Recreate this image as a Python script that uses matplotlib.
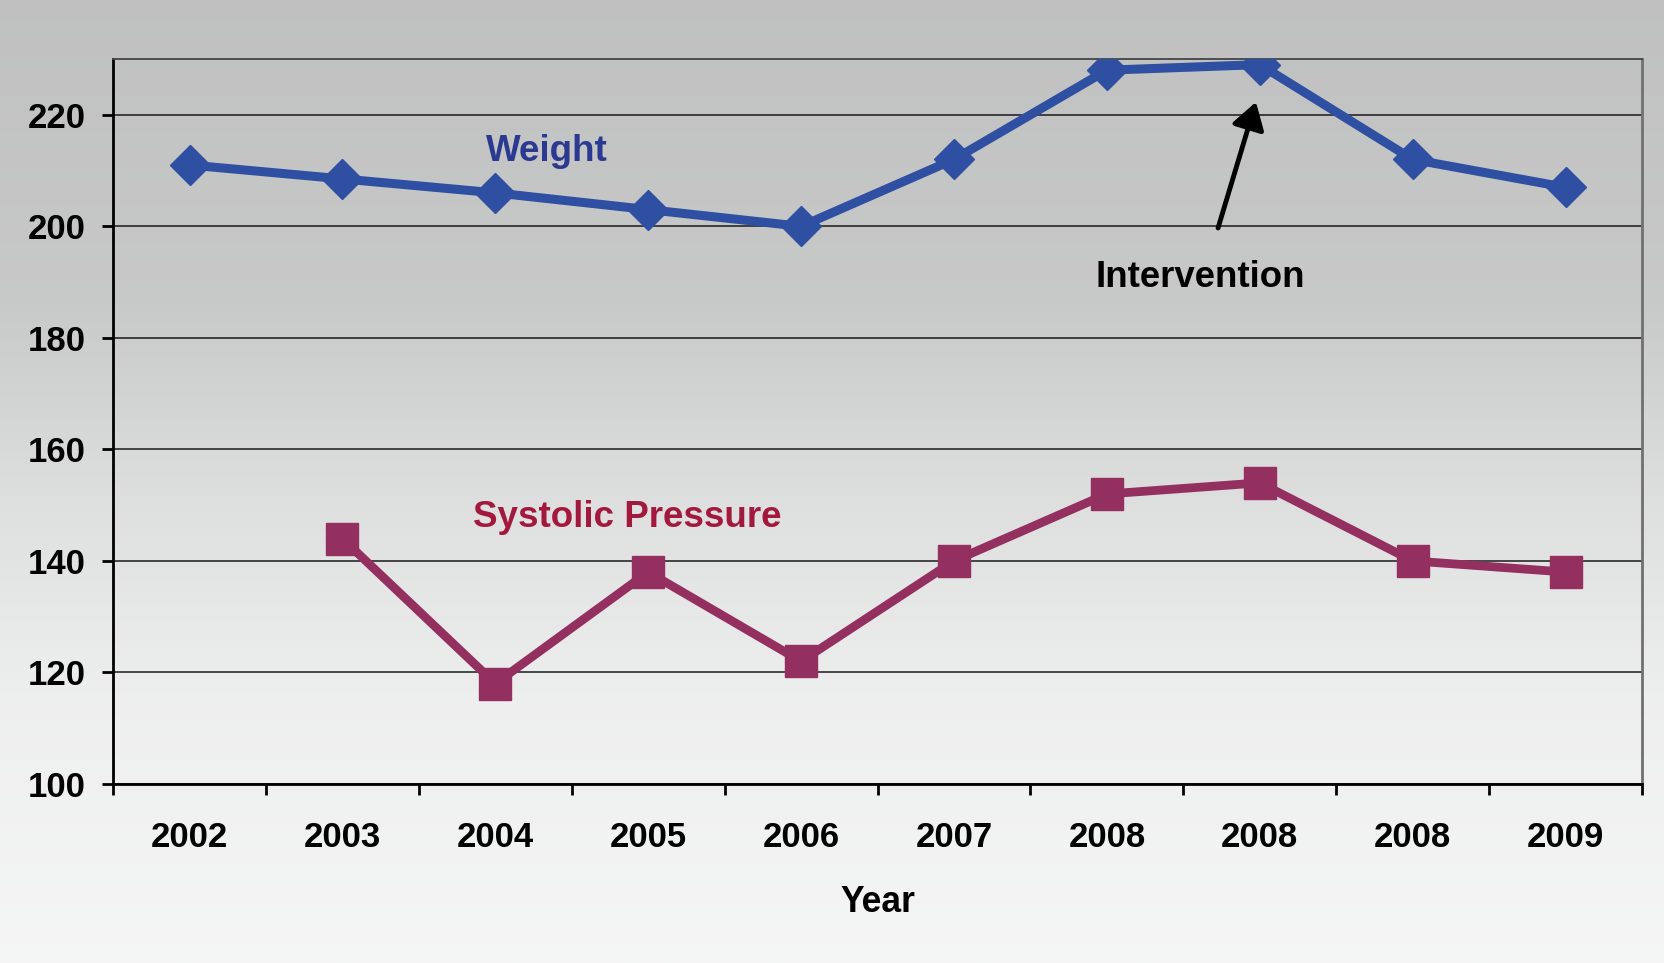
import matplotlib
matplotlib.use("Agg")
import matplotlib.pyplot as plt
import numpy as np

plt.rcParams["font.family"] = ["Liberation Sans", "DejaVu Sans"]
plt.rcParams["font.weight"] = "bold"

years = ["2002", "2003", "2004", "2005", "2006", "2007", "2008", "2008", "2008", "2009"]
weight = [211, 208.5, 206, 203, 200, 212, 228, 229, 212, 207]
systolic = [np.nan, 144, 118, 138, 122, 140, 152, 154, 140, 138]
y_ticks = [100, 120, 140, 160, 180, 200, 220]

blue = "#2f4fa2"
plum = "#93305f"

fig = plt.figure(figsize=(16.65, 9.63), dpi=100)

# vertical grey gradient behind the whole figure
bg = fig.add_axes([0, 0, 1, 1], zorder=-10)
rows = np.linspace(0, 963, 400)
shade = np.interp(rows, [0, 300, 500, 700, 963], [192, 200, 222, 238, 245]) / 255.0
grad = np.stack([shade, shade + 0.002, shade + 0.002], axis=-1).reshape(-1, 1, 3)
bg.imshow(np.clip(grad, 0, 1), aspect="auto", extent=[0, 1, 0, 1])
bg.axis("off")

ax = fig.add_axes([0.0679, 0.1859, 0.9183, 0.7528])
ax.set_facecolor("none")

x = np.arange(len(years))
ax.plot(x, weight, color=blue, lw=6.5, marker="D", ms=20, zorder=3)
ax.plot(x, systolic, color=plum, lw=6.3, marker="s", ms=23, zorder=3)

ax.set_xlim(-0.5, len(years) - 0.5)
ax.set_ylim(100, 230)
ax.set_yticks(y_ticks)
ax.yaxis.grid(True, color="#1a1a1a", lw=1.1)
ax.set_axisbelow(True)

# category boundaries carry the tick marks, centres carry the labels
ax.set_xticks(np.arange(-0.5, len(years)), labels=[""] * (len(years) + 1))
ax.set_xticks(x, labels=years, minor=True)
ax.tick_params(axis="x", which="major", direction="out", length=8, width=2)
ax.tick_params(axis="x", which="minor", length=0, pad=27, labelsize=25)
ax.tick_params(axis="y", direction="out", length=8, width=2, pad=12, labelsize=25)
for lab in ax.get_xticklabels(minor=True) + ax.get_yticklabels():
    lab.set_fontweight("bold")

ax.spines["left"].set_linewidth(2)
ax.spines["bottom"].set_linewidth(2)
ax.spines["top"].set_color("#444444")
ax.spines["top"].set_linewidth(1.3)
ax.spines["right"].set_color("#707070")
ax.spines["right"].set_linewidth(2)

ax.text(2.338, 213.5, "Weight", color="#2b3990", fontsize=26.5, fontweight="bold",
        ha="center", va="center")
ax.text(2.862, 147.8, "Systolic Pressure", color="#a3193d", fontsize=26.5,
        fontweight="bold", ha="center", va="center")
ax.annotate("", xy=(6.975, 222.3), xytext=(6.727, 199.7),
            arrowprops=dict(arrowstyle="-|>,head_length=0.4,head_width=0.25",
                            mutation_scale=40, lw=3.5, color="black", shrinkA=0, shrinkB=0))
ax.text(6.609, 190.8, "Intervention", color="black", fontsize=26.4, fontweight="bold",
        ha="center", va="center")

fig.text(878 / 1665, 1 - 912 / 963, "Year", fontsize=25.6, fontweight="bold",
         ha="center", va="baseline")

fig.savefig("out.png", dpi=100)
